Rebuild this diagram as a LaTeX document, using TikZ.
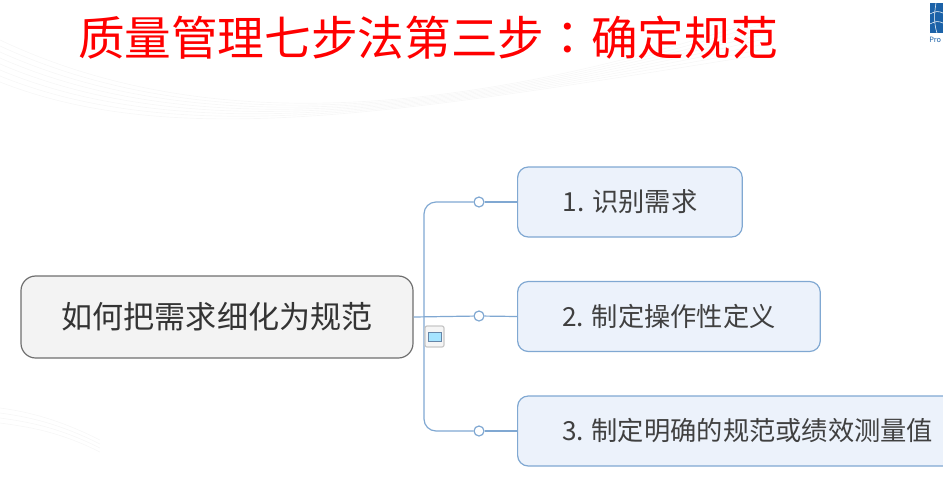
\documentclass[tikz,border=0pt]{standalone}
\usepackage{fontspec}
\setmainfont{Noto Sans CJK SC}
\newfontfamily\colonfont{Noto Sans CJK TC}
\usetikzlibrary{positioning}
\definecolor{linkblue}{RGB}{128,168,210}
\definecolor{topicfill}{RGB}{236,242,251}
\definecolor{rootfill}{RGB}{243,243,243}
\definecolor{rootline}{RGB}{110,110,110}
\definecolor{logoblue}{RGB}{28,98,168}
\tikzset{
  rootbox/.style={draw=rootline,fill=rootfill,line width=0.9pt,rounded corners=11pt,
    minimum width=294pt,minimum height=61.5pt,font=\fontsize{23.3}{26}\selectfont,text=black!80},
  topicbox/.style={draw=linkblue,fill=topicfill,line width=0.9pt,rounded corners=8pt,
    minimum height=52.5pt,font=\fontsize{19.7}{22}\selectfont,text=black!75,anchor=west},
  link/.style={draw=linkblue,line width=0.9pt,rounded corners=9pt},
  knob/.style={draw=linkblue,fill=white,circle,line width=0.9pt,inner sep=0pt,minimum size=7.5pt}
}
\begin{document}
\begin{tikzpicture}[x=0.75pt,y=-0.75pt]
  \useasboundingbox (0,0) rectangle (943,479);
  % faint background sweep
  \foreach \i in {0,...,7}
    \draw[black!3,line width=0.5pt] (0,40+6*\i) .. controls (180,125+4*\i) and (420,130-3*\i) .. (760,20+5*\i);
  \foreach \i in {0,...,3}
    \draw[black!3,line width=0.5pt] (0,408+5*\i) .. controls (30,412+5*\i) and (60,420+4*\i) .. (100,440+4*\i);
  % title
  \node[text=red,font=\fontsize{35}{40}\selectfont,inner sep=0pt] (title) at (428,38)
    {质量管理七步法第三步{\colonfont ：}确定规范};
  % logo
  \fill[logoblue] (930,3) rectangle (943,33);
  \draw[white,line width=0.4pt] (930,14) .. controls (935,11) and (939,11) .. (943,13)
    (930,24) .. controls (935,21) and (939,21) .. (943,23)
    (936,3) .. controls (934,14) and (934,24) .. (937,33);
  \node[text=logoblue,font=\fontsize{5.5}{6}\selectfont,anchor=west,inner sep=0pt] (logotext) at (929,39.5) {Pro};
  % nodes
  \node[rootbox] (root) at (217,317) {如何把需求细化为规范};
  \coordinate (spine) at (424,316);
  \node[topicbox,minimum width=168.5pt] (need) at (517,202) {1. 识别需求};
  \node[topicbox,minimum width=227pt] (define) at (517,316.5) {2. 制定操作性定义};
  \node[topicbox,minimum width=345pt] (spec) at (517,431) {3. 制定明确的规范或绩效测量值};
  % links
  \node[knob] (knoba) at (479,202) {};
  \node[knob] (knobb) at (479,316) {};
  \node[knob] (knobc) at (479,431) {};
  \draw[link] (root.east) -- (knobb);
  \draw[link] (knobb) -- (define.west);
  \draw[link] (spine) |- (knoba);
  \draw[link] (spine) |- (knobc);
  \draw[link] (knoba) -- (need.west);
  \draw[link] (knobc) -- (spec.west);
  % note icon
  \draw[black!22,fill=black!4,line width=0.9pt,rounded corners=1.5pt] (425,326) rectangle (444,347);
  \draw[linkblue!80!black,fill=blue!30!cyan!35!white,line width=0.6pt] (428,332) rectangle (441,341);
\end{tikzpicture}
\end{document}
